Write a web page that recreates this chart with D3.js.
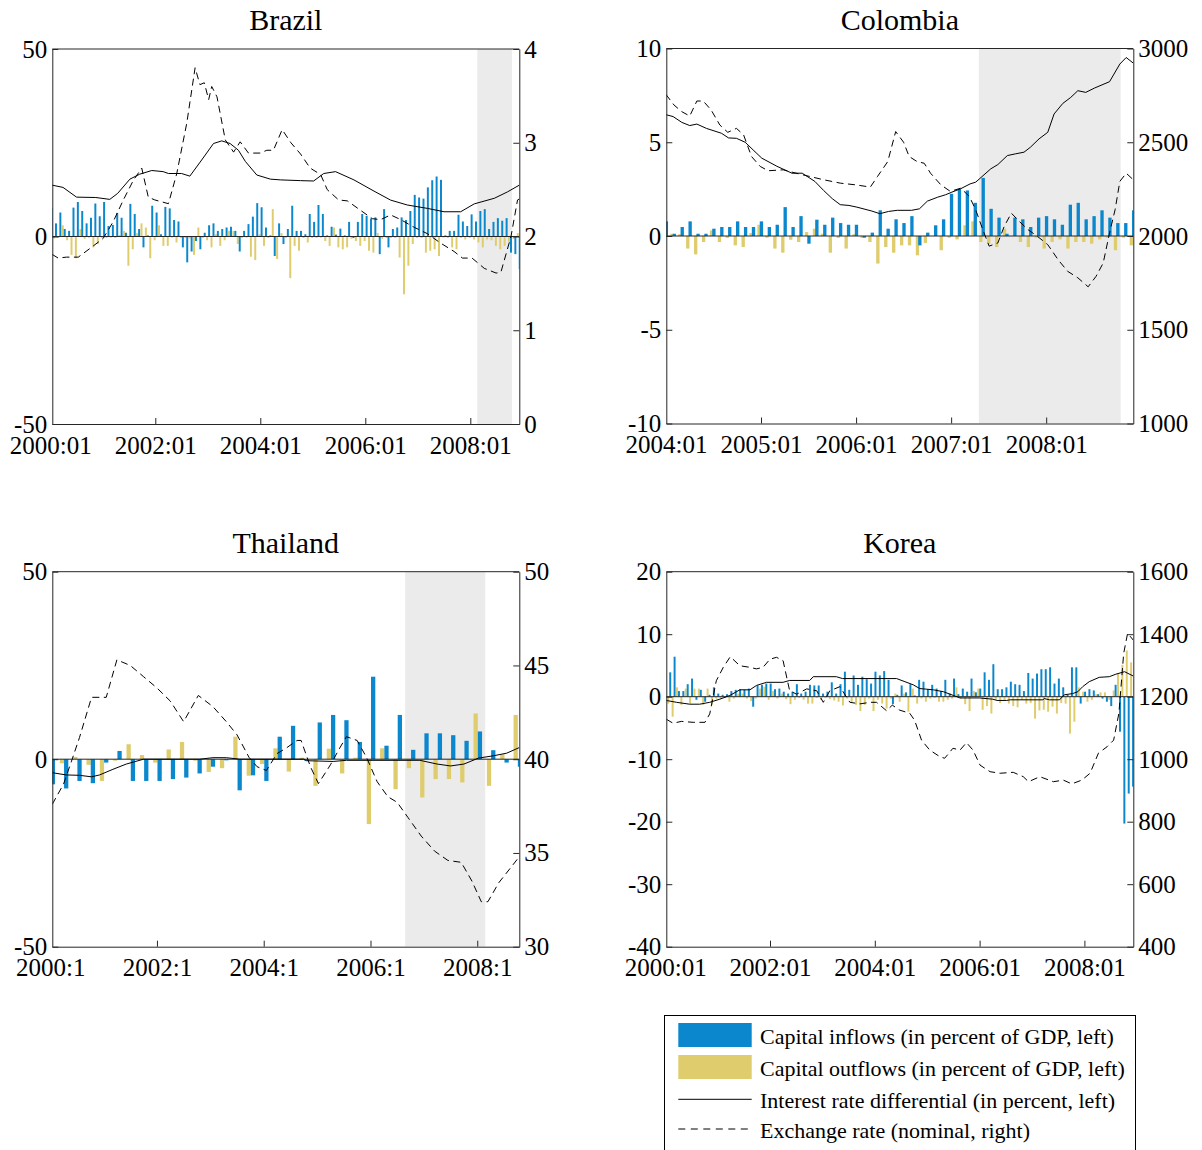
<!DOCTYPE html>
<html>
<head>
<meta charset="utf-8">
<script src="https://cdn.jsdelivr.net/npm/d3@7"></script>
<style>
  body { margin: 0; background: #fff; }
  svg { display: block; font-family: "Liberation Serif", "Times New Roman", serif; }
</style>
</head>
<body>
<div id="container"></div>
<script>
// ---- Brazil (monthly, 2000:01 - 2008:12) ----
const brazilInflows = [7.7, 3.5, 6.4, 2.0, 1.5, 7.7, 9.2, 6.8, 3.5, 5.0,
  8.8, 5.4, 9.2, 2.8, 3.1, 6.3, 5.0, 1.0, 8.7, 6.0,
  2.0, -2.9, 0.3, 8.2, 6.4, 0.6, 7.9, 7.5, 4.4, 4.0,
  -2.9, -6.9, -4.0, -1.2, -3.4, 1.0, 3.0, 3.5, 1.5, 2.0,
  2.4, 2.6, 1.5, -4.0, 1.5, 3.3, 5.3, 8.9, 7.8, 2.4,
  0.3, -5.2, 3.5, -2.0, 2.0, 8.2, 1.5, 1.5, 0.6, 6.0,
  3.9, 8.4, 6.0, 0.3, 2.6, 0.5, 2.1, 0.3, 3.9, -0.4,
  3.9, 6.0, 5.5, 4.8, 5.1, -4.7, 7.3, -2.9, 2.0, 2.4,
  5.1, 4.4, 6.8, 11.1, 10.4, 10.1, 13.1, 15.0, 16.0, 15.1,
  0.3, 1.5, 1.5, 5.8, 4.0, 2.8, 5.9, 4.0, 6.8, 7.3,
  2.0, 3.9, 4.9, 4.2, 4.9, -4.3, -4.7, -8.7];
const brazilOutflows = [-0.5, -0.4, 3.0, -1.0, -4.9, -5.8, 2.0, -0.6, -0.3, -2.9,
  -2.0, -0.4, -0.4, -0.3, -0.4, 0.4, 1.5, -7.8, -3.4, 0.9,
  3.5, 2.4, -5.8, -1.0, 3.0, -2.5, -2.5, -0.3, -1.6, -0.4,
  -0.4, -0.5, -4.9, 2.4, -0.4, -1.0, -2.9, 0.6, -2.5, -1.0,
  1.5, 1.5, -2.0, -0.4, -0.3, -5.4, -6.3, 0.6, -2.5, -0.4,
  7.3, -6.0, 0.9, -0.4, -11.1, -2.5, -3.8, -0.4, -1.6, -0.4,
  -0.4, -0.3, -1.2, -2.5, 2.4, -2.9, -3.4, -2.9, -0.6, -1.2,
  -2.5, -1.2, -3.8, -4.3, 0.9, -0.6, -0.4, -0.4, -0.4, -5.6,
  -15.4, -7.8, -2.0, -0.4, -0.4, -4.3, -3.8, -3.4, -5.2, -0.3,
  -0.4, -2.9, -3.4, -0.4, -0.8, -0.4, -0.8, -1.6, -2.9, -0.8,
  -1.0, -2.5, -3.4, -2.5, -1.4, -0.6, 0.9, 0];
// [month index, value]
const brazilRate = [[0.4,13.7],[2.9,13.1],[6,10.5],[10.4,10.4],[13.6,9.9],[15.4,11.5],[18.2,15.3],[20.4,16.6],
  [23.2,17.6],[25.8,17.3],[27,16.8],[30,16.8],[31.9,16.1],[34.6,20.4],[37.3,24.8],[39.2,25.5],[41.1,24.8],
  [43,23],[44.6,20],[47.2,16.4],[50.3,15.3],[52.6,15.1],[57.2,14.9],[60.2,14.8],[62.5,16.8],[65.2,17.3],
  [69.4,15.1],[74,12.1],[77.8,9.7],[81.6,8.4],[86.2,7.5],[90,6.6],[93.8,6.6],[96.9,8.7],[101.5,10.2],
  [104.5,11.9],[107.2,13.7]];
const brazilFx = [[0.4,1.81],[1.8,1.77],[3.7,1.78],[6.4,1.78],[9,1.87],[12.1,1.98],[14.4,2.16],[16.7,2.39],
  [19,2.60],[20.9,2.73],[22.4,2.42],[23.9,2.39],[27,2.35],[28.9,2.67],[31.2,3.21],[33.1,3.80],[34.2,3.62],
  [35.2,3.64],[36.2,3.46],[36.9,3.60],[38.1,3.49],[40,3.03],[41.9,2.90],[43.4,3.01],[45.3,2.89],[48,2.89],
  [49.5,2.92],[51,2.92],[53,3.14],[55,3.0],[57.2,2.88],[59.4,2.73],[61.8,2.66],[63.3,2.50],[65.9,2.39],
  [67.9,2.38],[70.9,2.28],[73.6,2.19],[75.5,2.18],[77.8,2.23],[80.1,2.18],[83.1,2.10],[86.2,2.03],
  [89.2,1.93],[92.3,1.84],[94.2,1.77],[96.4,1.77],[99.2,1.66],[101.9,1.61],[103,1.62],[105.3,2.00],
  [106.8,2.39],[107.2,2.40]];
const brazilShade = [97.6, 105.5];

// ---- Colombia (monthly, 2004:01 - 2008:12) ----
const colombiaInflows = [0.78, 0.12, 0.48, 0.78, 0.12, 0.12, 0.39, 0.48, 0.48, 0.78,
  0.48, 0.48, 0.78, 0.48, 0.6, 1.54, 0.48, 1.06, -0.41, 0.87,
  0.6, 0.98, 0.69, 0.6, 0.6, -0.09, 0.18, 1.37, 0.39, 0.89,
  0.69, 1.06, -0.5, 0.18, 0.57, 0.89, 2.25, 2.5, 2.43, 1.77,
  3.1, 1.45, 0.98, 0.12, 0.98, 0.89, 0.48, 0.98, 1.06, 0.89,
  0.6, 1.67, 1.77, 0.89, 1.06, 1.37, 0.98, 0.69, 0.69, 1.37];
const colombiaOutflows = [0.12, 0.1, -0.67, -0.98, -0.32, 0.3, -0.32, -0.1, -0.5, -0.59,
  0.16, 0.6, -0.09, -0.67, -0.89, -0.2, -0.32, 0.21, 0.39, 0.12,
  -0.89, -0.1, -0.67, 0.1, -0.1, -0.32, -1.47, -0.59, -0.89, -0.5,
  -0.5, -1.03, -0.37, 0, -0.76, -0.09, -0.18, 0.57, 0.78, -0.32,
  -0.41, -0.59, 0.39, 0, -0.32, -0.59, -0.09, -0.67, -0.32, -0.18,
  -0.67, -0.32, -0.32, -0.41, -0.18, -0.09, -0.76, -0.09, -0.5, 0];
const colombiaRate = [[0,6.47],[0.9,6.37],[2,6.06],[3,5.89],[3.9,5.97],[5.1,5.74],[7,5.48],[7.9,5.23],
  [8.9,5.21],[10,5.0],[11,4.59],[12.1,4.15],[14,3.72],[15.9,3.35],[17.2,3.35],[18.8,2.91],[19.9,2.43],
  [21,1.99],[22,1.67],[23.1,1.63],[24.1,1.54],[26,1.33],[27,1.19],[28.1,1.31],[29.2,1.37],[31,1.37],
  [32,1.45],[33,1.86],[34.3,2.07],[35.3,2.2],[36.1,2.34],[37.2,2.52],[38.4,2.78],[39.1,2.87],[39.9,3.17],
  [41,3.58],[41.9,3.81],[43.1,4.29],[44.1,4.38],[45.2,4.47],[46,4.73],[47.1,5.18],[48.2,5.53],[49,6.51],
  [50.1,7.07],[51.1,7.39],[52,7.75],[53,7.66],[54.1,7.89],[56,8.23],[57.3,9.17],[58.1,9.52],[59,9.22]];
const colombiaFx = [[0,2755],[1,2699],[2,2663],[3,2640],[3.9,2720],[4.7,2720],[5.7,2672],[6.8,2592],
  [7.8,2553],[8.9,2574],[9.8,2539],[10.8,2424],[11.9,2371],[12.9,2348],[14.8,2353],[16.7,2332],
  [18.2,2317],[19.9,2300],[22,2282],[23.9,2273],[25.8,2261],[26.7,2317],[28,2397],[29,2557],[30,2500],
  [30.7,2424],[31.7,2397],[32.6,2388],[33.4,2335],[34.7,2273],[35.9,2238],[37.2,2255],[38.3,2211],
  [39.1,2140],[40,2034],[40.8,1946],[41.9,1963],[42.7,2051],[43.6,2122],[44.6,2078],[45.7,2034],
  [46.9,1998],[48.2,1954],[49.5,1874],[50.7,1812],[52,1777],[53.3,1729],[54.3,1785],[55.2,1856],
  [56,2016],[56.7,2140],[57.3,2291],[58.1,2335],[59,2300]];
const colombiaShade = [39.5, 57.4];

// ---- Thailand (quarterly, 2000:1 - 2008:4) ----
const thailandInflows = [-6.7, -7.8, -5.8, -6.4, -0.9, 2.2, -5.8, -5.8, -5.8, -5.3,
  -4.9, -3.8, -2.0, -0.3, -8.3, -4.3, -5.8, 6.0, 8.9, -0.4,
  9.8, 11.8, 10.4, 4.6, 22.0, 3.6, 11.8, 2.5, 6.9, 6.9,
  6.4, 4.9, 7.4, 2.4, -0.9, -2.0];
const thailandOutflows = [0, -1.1, 0.6, -1.5, -5.8, -0.4, 4.0, 1.1, -0.9, 2.6,
  4.6, -0.4, -3.4, -2.4, 6.0, -4.4, -1.3, 2.9, -3.3, 0.4,
  -7.1, 2.8, -3.8, 0.4, -17.3, 2.9, -8.0, -2.4, -10.2, -5.3,
  -5.3, -6.2, 12.2, -7.1, 1.3, 11.8];
const thailandRate = [[0.16,-3.6],[1.2,-4.2],[2.2,-4.3],[3.1,-4.7],[3.7,-4.2],[4.7,-2.7],[5.7,-1.3],
  [7,0],[11.2,0],[12.2,0.4],[13.2,0.4],[14.2,0],[19,0],[19.2,-0.4],[21.2,-0.6],[22.2,-0.3],[27.7,-0.3],
  [29,-1.3],[30,-1.8],[31,-1.3],[32.1,0.3],[33.2,0.9],[34.2,1.6],[35.15,3.1]];
const thailandFx = [[0.16,37.6],[1,38.67],[1.6,39.9],[2.2,41.16],[3.1,43.3],[4.2,43.3],[5,45.3],[6,45.0],
  [7,44.4],[8,43.8],[9,43.1],[10,42.0],[11.1,43.4],[12.2,42.8],[13.2,42.0],[14,41.3],[14.9,40.1],
  [15.5,39.6],[16.2,39.4],[17,40.3],[17.7,40.6],[18.5,41.0],[18.8,41.0],[19.5,39.6],[20.1,38.7],[21,39.7],
  [21.7,40.6],[22.2,41.2],[23,41.0],[23.7,40.1],[24.5,38.8],[25.3,38.0],[26,37.7],[26.8,36.9],[27.8,35.9],
  [28.8,35.1],[29.8,34.6],[30.8,34.5],[31.6,33.5],[32.3,32.4],[32.8,32.4],[33.6,33.4],[34.6,34.3],
  [35.15,34.8]];
const thailandShade = [26.6, 32.6];

// ---- Korea (monthly, 2000:01 - 2008:12) ----
const koreaInflows = [0, 3.9, 6.4, 0.9, 0.9, 2.0, 2.9, -0.5, 1.1, -0.8,
  0.3, 1.5, 0.5, 0.3, 0.4, 0.9, 1.1, 1.2, 1.1, 1.3,
  -1.6, 1.8, 1.9, 2.1, 2.1, 1.2, 1.3, 0.8, 0.5, 0.8,
  2.0, 0.5, 0.8, 1.9, 1.8, 1.8, 0.5, 0.8, 2.3, 0.5,
  2.0, 4.0, 1.1, 3.4, 1.9, 3.2, 2.8, 2.1, 4.0, 3.4,
  4.1, 2.7, -1.2, 0.3, 1.8, 0.7, 2.0, 0.2, 2.7, 2.4,
  1.2, 1.9, 1.3, 0.9, 2.7, 0.5, 2.9, 0.4, 1.3, 0.8,
  2.9, 0.7, 1.3, 3.9, 2.7, 5.2, 1.2, 1.2, 1.5, 2.4,
  2.0, 1.9, 0.9, 3.8, 2.9, 3.7, 4.4, 4.4, 4.7, 2.1,
  2.9, 1.5, 0.3, 4.7, 4.7, -1.1, 0.8, 1.2, 1.0, 0.4,
  -0.3, -0.8, -1.5, 1.9, -5.6, -20.3, -15.5, -14.4];
const koreaOutflows = [-1.1, -3.2, 1.5, -1.3, 1.3, -1.1, 1.3, 1.3, -1.3, 1.3,
  -1.3, -0.3, -0.3, -0.2, -0.8, -0.3, 0.5, 0.5, -0.3, -0.7,
  -0.3, 1.3, 1.6, -0.5, 0.9, -0.3, 0.5, -0.4, -1.2, -0.5,
  -0.2, -0.5, -1.1, -1.1, -0.2, -0.5, -0.2, -0.4, -0.6, -0.8,
  -1.4, -0.3, -0.9, -1.3, -2.3, -1.3, -0.3, -2.3, -0.5, -1.1,
  -1.9, -0.3, 0.5, -0.8, 0.5, -2.4, 1.3, -1.1, -0.3, -0.8,
  -0.3, -0.2, -0.8, -0.8, -0.5, -0.3, 1.5, -0.3, -1.2, -2.3,
  0.9, 1.3, -2.1, -1.5, -2.7, -0.5, -1.0, -0.5, -1.1, -1.5,
  -1.7, -0.5, -1.1, -1.0, -3.5, -2.2, -2.1, -2.4, -1.6, -2.7,
  -1.0, -1.1, -5.9, -4.0, 1.5, 0.8, -0.8, -0.5, 0.4, 0.7,
  0.7, -0.5, 1.0, 3.7, 5.1, 7.4, 5.5, 0];
const koreaRate = [[0.25,-0.6],[2.6,-0.9],[5.6,-1.2],[7.9,-1.2],[10.2,-0.9],[12.5,-0.4],[14.8,0.2],
  [17.1,1.1],[19.4,1.1],[20.9,1.8],[23.2,2.3],[27,2.3],[28.5,2.6],[33.1,2.6],[33.9,3.2],[39.2,3.2],
  [40.6,2.9],[53,2.9],[54.9,2.4],[56.8,1.9],[58.3,1.3],[59.9,1.2],[61.4,1.1],[63.7,0.8],[66,0.2],
  [67.5,-0.2],[72,-0.2],[75,-0.4],[76,-0.6],[78.2,-0.6],[79,-0.5],[86.5,-0.5],[86.8,-0.3],[88,-0.5],
  [90.3,-0.5],[91.4,0.3],[93.3,0.5],[94.5,0.8],[95.6,1.6],[97.1,2.4],[99.4,3.1],[101.7,3.2],[103.2,3.6],
  [105.2,4.0],[107.2,3.3]];
const koreaFx = [[0.25,1128],[1.8,1115],[3.7,1121],[6.4,1118],[9.1,1118],[10.2,1145],[11.7,1251],
  [13.3,1294],[14.9,1328],[17.1,1299],[19.4,1294],[20.9,1289],[22.4,1294],[24,1320],[25.5,1326],
  [27,1315],[28.5,1219],[30.1,1208],[32.4,1225],[34.7,1219],[36.2,1182],[37.7,1219],[40,1232],
  [42.3,1182],[44.6,1177],[46.9,1182],[48.4,1182],[50.7,1155],[52,1173],[53.7,1157],[56,1147],
  [57.1,1125],[58.7,1061],[60.6,1029],[62.9,1008],[64,1003],[65.9,1035],[67.5,1029],[69,1053],
  [70.5,1029],[72.1,981],[74.4,960],[76.7,955],[79.7,958],[82,944],[83.2,928],[85.8,944],[88.9,928],
  [91.2,933],[93.1,921],[95.4,933],[97.3,955],[99.2,1019],[101.2,1040],[102.7,1061],[103.9,1147],
  [105,1339],[105.9,1403],[107.2,1381]];

// ---- axis ticks ----
const monthlyTicks = [0, 24, 48, 72, 96];
const monthlyLabels = ["2000:01", "2002:01", "2004:01", "2006:01", "2008:01"];
const colombiaTicks = [0, 12, 24, 36, 48];
const colombiaLabels = ["2004:01", "2005:01", "2006:01", "2007:01", "2008:01"];
const quarterTicks = [0, 8, 16, 24, 32];
const quarterLabels = ["2000:1", "2002:1", "2004:1", "2006:1", "2008:1"];

const legendLabels = [
  "Capital inflows (in percent of GDP, left)",
  "Capital outflows (in percent of GDP, left)",
  "Interest rate differential (in percent, left)",
  "Exchange rate (nominal, right)"
];

const width = 1202;
const height = 1150;
const plotW = 467, plotH = 375;
const blue = '#0a87cd', yellow = '#dfcc6c', shadeColor = '#ebebeb', axisColor = '#262626';

const svg = d3.select('#container')
  .append('svg')
  .attr('width', width)
  .attr('height', height);

const panels = [
  { name: 'Brazil', left: 52.3, top: 49, xDomain: [0.46, 107.2], yLeft: [-50, 50], yRight: [0, 4],
    leftTicks: [-50, 0, 50], rightTicks: [0, 1, 2, 3, 4], xTicks: monthlyTicks, xLabels: monthlyLabels,
    inflows: brazilInflows, outflows: brazilOutflows, rate: brazilRate, fx: brazilFx, shade: brazilShade,
    inOffset: 0.3, outOffset: 0.85, barWidth: 0.45 },
  { name: 'Colombia', left: 666.3, top: 48.5, xDomain: [0.04, 59.0], yLeft: [-10, 10], yRight: [1000, 3000],
    leftTicks: [-10, -5, 0, 5, 10], rightTicks: [1000, 1500, 2000, 2500, 3000], xTicks: colombiaTicks, xLabels: colombiaLabels,
    inflows: colombiaInflows, outflows: colombiaOutflows, rate: colombiaRate, fx: colombiaFx, shade: colombiaShade,
    inOffset: 0.05, outOffset: 0.75, barWidth: 0.42 },
  { name: 'Thailand', left: 52.3, top: 571.7, xDomain: [0.16, 35.15], yLeft: [-50, 50], yRight: [30, 50],
    leftTicks: [-50, 0, 50], rightTicks: [30, 35, 40, 45, 50], xTicks: quarterTicks, xLabels: quarterLabels,
    inflows: thailandInflows, outflows: thailandOutflows, rate: thailandRate, fx: thailandFx, shade: thailandShade,
    inOffset: 0.2, outOffset: -0.12, barWidth: 0.32 },
  { name: 'Korea', left: 666.3, top: 571.7, xDomain: [0.25, 107.2], yLeft: [-40, 20], yRight: [400, 1600],
    leftTicks: [-40, -30, -20, -10, 0, 10, 20], rightTicks: [400, 600, 800, 1000, 1200, 1400, 1600],
    xTicks: monthlyTicks, xLabels: monthlyLabels,
    inflows: koreaInflows, outflows: koreaOutflows, rate: koreaRate, fx: koreaFx, shade: null,
    inOffset: 0.15, outOffset: 0.7, barWidth: 0.45 }
];

// plain hyphen for negatives, like the original figure
const plainNum = d => String(d);

function renderPanel(p) {
  const x = d3.scaleLinear().domain(p.xDomain).range([p.left, p.left + plotW]);
  const yL = d3.scaleLinear().domain(p.yLeft).range([p.top + plotH, p.top]);
  const yR = d3.scaleLinear().domain(p.yRight).range([p.top + plotH, p.top]);
  const g = svg.append('g').attr('class', 'panel');

  const clipId = 'clip-' + p.name;
  g.append('clipPath').attr('id', clipId)
    .append('rect')
    .attr('x', p.left).attr('y', p.top)
    .attr('width', plotW).attr('height', plotH);

  const plot = g.append('g').attr('clip-path', `url(#${clipId})`);

  if (p.shade) {
    plot.append('rect')
      .attr('x', x(p.shade[0]))
      .attr('y', p.top)
      .attr('width', x(p.shade[1]) - x(p.shade[0]))
      .attr('height', plotH)
      .attr('fill', shadeColor);
  }

  const bw = (x(1) - x(0)) * p.barWidth;
  const drawBars = (data, offset, color, cls) => {
    plot.selectAll('.' + cls)
      .data(data)
      .join('rect')
      .attr('class', cls)
      .attr('x', (d, i) => x(i + offset) - bw / 2)
      .attr('y', d => Math.min(yL(d), yL(0)))
      .attr('width', bw)
      .attr('height', d => Math.abs(yL(d) - yL(0)))
      .attr('fill', color);
  };
  drawBars(p.outflows, p.outOffset, yellow, 'out');
  drawBars(p.inflows, p.inOffset, blue, 'in');

  // bar baseline
  plot.append('line')
    .attr('x1', p.left).attr('x2', p.left + plotW)
    .attr('y1', yL(0)).attr('y2', yL(0))
    .attr('stroke', axisColor).attr('stroke-width', 1);

  const rateLine = d3.line().x(d => x(d[0])).y(d => yL(d[1]));
  const fxLine = d3.line().x(d => x(d[0])).y(d => yR(d[1]));

  plot.append('path')
    .attr('d', rateLine(p.rate))
    .attr('fill', 'none').attr('stroke', '#000').attr('stroke-width', 1);
  plot.append('path')
    .attr('d', fxLine(p.fx))
    .attr('fill', 'none').attr('stroke', '#000').attr('stroke-width', 1)
    .attr('stroke-dasharray', '7,4.5');

  // axes
  const styleAxis = sel => {
    sel.attr('font-family', '"Liberation Serif", "Times New Roman", serif')
      .attr('font-size', 25)
      .attr('color', axisColor);
    sel.selectAll('text').attr('fill', '#000');
  };

  g.append('g')
    .attr('transform', `translate(${p.left},0)`)
    .call(d3.axisLeft(yL).tickValues(p.leftTicks).tickSize(-6).tickSizeOuter(0).tickPadding(5).tickFormat(plainNum))
    .call(styleAxis);

  g.append('g')
    .attr('transform', `translate(${p.left + plotW},0)`)
    .call(d3.axisRight(yR).tickValues(p.rightTicks).tickSize(-6).tickSizeOuter(0).tickPadding(5).tickFormat(plainNum))
    .call(styleAxis);

  const xAxis = g.append('g')
    .attr('transform', `translate(0,${p.top + plotH})`)
    .call(d3.axisBottom(x).tickValues(p.xTicks).tickSize(-6).tickSizeOuter(0).tickPadding(12)
      .tickFormat((d, i) => p.xLabels[i]))
    .call(styleAxis);
  // hide tick marks that fall just outside the box
  xAxis.selectAll('.tick line').attr('opacity', d => x(d) < p.left ? 0 : 1);

  // top border
  g.append('line')
    .attr('x1', p.left).attr('x2', p.left + plotW)
    .attr('y1', p.top).attr('y2', p.top)
    .attr('stroke', axisColor).attr('stroke-width', 1);

  g.append('text')
    .attr('x', p.left + plotW / 2)
    .attr('y', p.top - 19)
    .attr('text-anchor', 'middle')
    .attr('font-size', 30)
    .attr('fill', '#000')
    .text(p.name);
}

panels.forEach(renderPanel);

// legend
const legend = svg.append('g').attr('class', 'legend');
legend.append('rect')
  .attr('x', 664.5).attr('y', 1015.5)
  .attr('width', 471).attr('height', 150)
  .attr('fill', '#fff').attr('stroke', '#000').attr('stroke-width', 1);

const rowY = [1035, 1067, 1099.3, 1129];
legend.append('rect').attr('x', 678.3).attr('y', rowY[0] - 12).attr('width', 73.4).attr('height', 24).attr('fill', blue);
legend.append('rect').attr('x', 678.3).attr('y', rowY[1] - 12).attr('width', 73.4).attr('height', 24).attr('fill', yellow);
legend.append('line').attr('x1', 678.3).attr('x2', 751.7).attr('y1', rowY[2]).attr('y2', rowY[2])
  .attr('stroke', '#000').attr('stroke-width', 1);
legend.append('line').attr('x1', 678.3).attr('x2', 751.7).attr('y1', rowY[3]).attr('y2', rowY[3])
  .attr('stroke', '#000').attr('stroke-width', 1).attr('stroke-dasharray', '7,5.5');

legend.selectAll('.legend-label')
  .data(legendLabels)
  .join('text')
  .attr('class', 'legend-label')
  .attr('x', 760)
  .attr('y', (d, i) => rowY[i] + 8.5)
  .attr('font-size', 22)
  .attr('fill', '#000')
  .text(d => d);
</script>
</body>
</html>
